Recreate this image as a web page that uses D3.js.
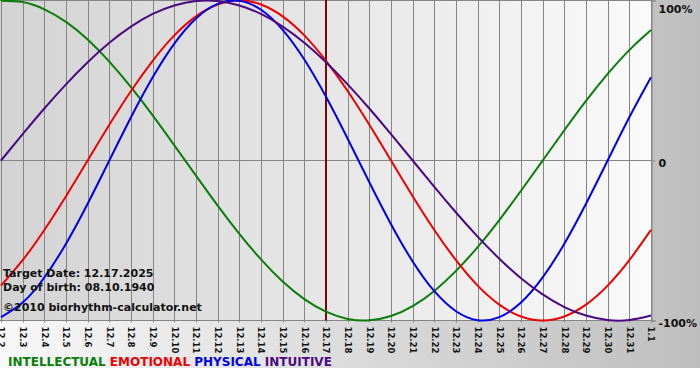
<!DOCTYPE html>
<html>
<head>
<meta charset="utf-8">
<script src="https://cdn.jsdelivr.net/npm/d3@7"></script>
<style>
  html, body { margin: 0; padding: 0; background: #fff; }
  svg { display: block; font-family: "DejaVu Sans", Verdana, sans-serif; }
</style>
</head>
<body>
<div id="chart"></div>
<script>
const width = 700
const height = 380
const plot = {left: 1, right: 651, top: 0.5, bottom: 320.5}

// days shown (month.day)
const days = ["12.2","12.3","12.4","12.5","12.6","12.7","12.8","12.9","12.10","12.11","12.12","12.13","12.14","12.15","12.16","12.17",
  "12.18","12.19","12.20","12.21","12.22","12.23","12.24","12.25","12.26","12.27","12.28","12.29","12.30","12.31","1.1"]
const targetDay = "12.17"

// cycle values in percent, one per day
const intellectual = [99.9,99.0,94.5,86.6,75.6,61.8,45.8,28.2,9.5,-9.5,-28.2,-45.8,-61.8,-75.6,-86.6,-94.5,
  -99.0,-99.9,-97.2,-91.0,-81.5,-69.0,-54.1,-37.2,-18.9,0,18.9,37.2,54.1,69.0,81.5]
const emotional = [-78.2,-62.3,-43.4,-22.3,0,22.3,43.4,62.3,78.2,90.1,97.5,100,97.5,90.1,78.2,62.3,
  43.4,22.3,0,-22.3,-43.4,-62.3,-78.2,-90.1,-97.5,-100,-97.5,-90.1,-78.2,-62.3,-43.4]
const physical = [-97.9,-88.8,-73.1,-52.0,-27.0,0,27.0,52.0,73.1,88.8,97.9,99.8,94.2,81.7,63.1,39.8,
  13.6,-13.6,-39.8,-63.1,-81.7,-94.2,-99.8,-97.9,-88.8,-73.1,-52.0,-27.0,0,27.0,52.0]
const intuitive = [0,16.5,32.5,47.6,61.4,73.6,83.7,91.6,96.9,99.7,99.7,96.9,91.6,83.7,73.6,61.4,
  47.6,32.5,16.5,0,-16.5,-32.5,-47.6,-61.4,-73.6,-83.7,-91.6,-96.9,-99.7,-99.7,-96.9]

const seriesNames = ["INTELLECTUAL","EMOTIONAL","PHYSICAL","INTUITIVE"]
const seriesColors = ["#0a7d0a","#ee0000","#0000e6","#4b0a82"]
const seriesValues = [intellectual, emotional, physical, intuitive]

const yTicks = [100, 0, -100]
const infoLines = ["Target Date: 12.17.2025", "Day of birth: 08.10.1940", "\u00a92010 biorhythm-calculator.net"]

const svg = d3.select("div#chart").append("svg").attr("width", width).attr("height", height)

const defs = svg.append("defs")
const outerGrad = defs.append("linearGradient").attr("id", "outerGrad")
outerGrad.append("stop").attr("offset", "0%").attr("stop-color", "#f8f8f8")
outerGrad.append("stop").attr("offset", "100%").attr("stop-color", "#bebebe")
const plotGrad = defs.append("linearGradient").attr("id", "plotGrad")
plotGrad.append("stop").attr("offset", "0%").attr("stop-color", "#d3d3d3")
plotGrad.append("stop").attr("offset", "100%").attr("stop-color", "#fafafa")

// backgrounds
svg.append("rect").attr("x", 0).attr("y", 0).attr("width", width).attr("height", 368).attr("fill", "url(#outerGrad)")
svg.append("rect").attr("x", 0).attr("y", 0).attr("width", plot.right).attr("height", plot.bottom).attr("fill", "url(#plotGrad)")

const x = d3.scalePoint().domain(days).range([plot.left, plot.right])
const y = d3.scaleLinear().domain([-100, 100]).range([plot.bottom, plot.top])

// vertical day grid
svg.append("g").attr("class", "grid")
  .selectAll("line").data(days).join("line")
  .attr("x1", d => Math.round(x(d)) + 0.5)
  .attr("x2", d => Math.round(x(d)) + 0.5)
  .attr("y1", 0).attr("y2", plot.bottom + 2)
  .attr("stroke", "#858585").attr("stroke-width", 1)

// horizontal lines
svg.append("g").attr("class", "hgrid")
  .selectAll("line").data(yTicks).join("line")
  .attr("x1", 0).attr("x2", plot.right)
  .attr("y1", d => y(d)).attr("y2", d => y(d))
  .attr("stroke", "#858585").attr("stroke-width", 1)

// right axis
const yAxis = d3.axisRight(y).tickValues(yTicks).tickFormat(d => d === 0 ? "0" : d + "%").tickSize(4).tickPadding(3)
const yAxisGroup = svg.append("g").attr("transform", `translate(${plot.right + 0.5},0)`).call(yAxis)
yAxisGroup.select(".domain").attr("stroke", "#858585")
yAxisGroup.selectAll(".tick line").attr("stroke", "#858585")
yAxisGroup.selectAll("text")
  .attr("font-size", 11).attr("font-weight", "bold").attr("fill", "#111")
  .attr("font-family", "DejaVu Sans, Verdana, sans-serif")
  .attr("dy", d => d === 100 ? "1.05em" : "0.55em")

// bottom day labels
const xAxis = d3.axisBottom(x).tickSize(0).tickPadding(0)
const xAxisGroup = svg.append("g").attr("transform", `translate(0,${plot.bottom})`).call(xAxis)
xAxisGroup.select(".domain").remove()
xAxisGroup.selectAll("text")
  .attr("transform", "rotate(90)")
  .attr("x", 6).attr("y", 0).attr("dy", "0.36em")
  .attr("text-anchor", "start")
  .attr("font-size", 8.5).attr("font-weight", "bold").attr("fill", "#111")
  .attr("font-family", "DejaVu Sans, Verdana, sans-serif")

// target day marker
svg.append("line")
  .attr("x1", x(targetDay)).attr("x2", x(targetDay))
  .attr("y1", 0).attr("y2", plot.bottom)
  .attr("stroke", "#7a0a0a").attr("stroke-width", 2)

// curves
const line = d3.line()
  .x((d, i) => x(days[i]))
  .y(d => y(d))
  .curve(d3.curveNatural)

svg.append("g").attr("class", "curves")
  .selectAll("path").data(seriesValues).join("path")
  .attr("d", d => line(d))
  .attr("fill", "none")
  .attr("stroke", (d, i) => seriesColors[i])
  .attr("stroke-width", 2)

// info text
svg.append("g").selectAll("text").data(infoLines).join("text")
  .attr("x", 3)
  .attr("y", (d, i) => [277, 291, 311][i])
  .attr("font-size", 11).attr("font-weight", "bold").attr("fill", "#111")
  .text(d => d)

// legend
const legend = svg.append("text").attr("x", 8).attr("y", 366)
  .attr("font-size", 12).attr("font-weight", "bold")
seriesNames.forEach((name, i) => {
  legend.append("tspan").attr("fill", seriesColors[i]).text((i ? " " : "") + name)
})
</script>
</body>
</html>
